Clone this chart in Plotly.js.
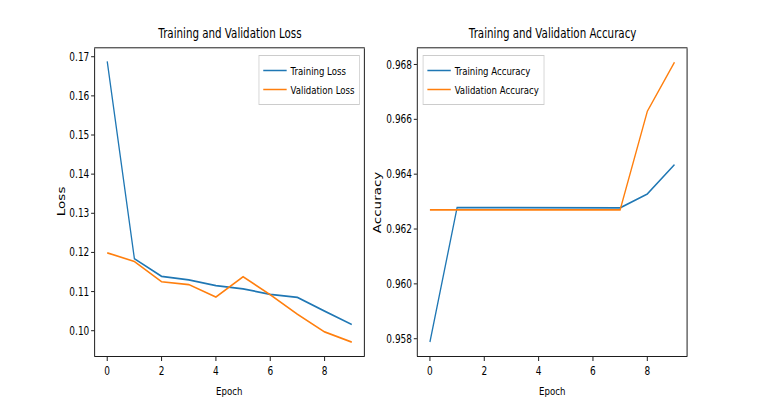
<!DOCTYPE html>
<html>
<head>
<meta charset="utf-8">
<script src="https://cdn.plot.ly/plotly-3.0.1.min.js"></script>
<style>
html,body{margin:0;padding:0;background:#fff;overflow:hidden;width:763px;height:400px;}
#wrap{width:763px;height:400px;overflow:hidden;position:relative;}
#chart{width:978px;height:400px;transform:scaleX(0.78016);transform-origin:0 0;position:absolute;left:0;top:0;}
</style>
</head>
<body>
<div id="wrap"><div id="chart"></div></div>
<script>
const epochs = [0, 1, 2, 3, 4, 5, 6, 7, 8, 9];
const trainLoss = [0.1688, 0.1184, 0.1139, 0.1130, 0.1115, 0.1107, 0.1093, 0.1085, 0.1050, 0.1016];
const valLoss = [0.1199, 0.1177, 0.1125, 0.1118, 0.1086, 0.1138, 0.1092, 0.1042, 0.0997, 0.0971];
const trainAcc = [0.95788, 0.96278, 0.96278, 0.96278, 0.96278, 0.96278, 0.96278, 0.96277, 0.96328, 0.96435];
const valAcc = [0.96270, 0.96270, 0.96270, 0.96270, 0.96270, 0.96270, 0.96270, 0.96270, 0.96629, 0.96808];
const lossTicks = [0.10, 0.11, 0.12, 0.13, 0.14, 0.15, 0.16, 0.17];
const accTicks = [0.958, 0.960, 0.962, 0.964, 0.966, 0.968];
const epochTicks = [0, 2, 4, 6, 8];

const FONT = '"DejaVu Sans", "Liberation Sans", sans-serif';
const BLUE = '#1f77b4', ORANGE = '#ff7f0e';

const traces = [
  {x: epochs, y: trainLoss, name: 'Training Loss', type: 'scatter', mode: 'lines', line: {color: BLUE, width: 1.7}, xaxis: 'x', yaxis: 'y', legend: 'legend'},
  {x: epochs, y: valLoss, name: 'Validation Loss', type: 'scatter', mode: 'lines', line: {color: ORANGE, width: 1.7}, xaxis: 'x', yaxis: 'y', legend: 'legend'},
  {x: epochs, y: trainAcc, name: 'Training Accuracy', type: 'scatter', mode: 'lines', line: {color: BLUE, width: 1.7}, xaxis: 'x2', yaxis: 'y2', legend: 'legend2'},
  {x: epochs, y: valAcc, name: 'Validation Accuracy', type: 'scatter', mode: 'lines', line: {color: ORANGE, width: 1.7}, xaxis: 'x2', yaxis: 'y2', legend: 'legend2'}
];

function axisBase() {
  return {
    showgrid: false, zeroline: false, showline: true, mirror: true,
    linecolor: '#000', linewidth: 1, ticks: 'outside', ticklen: 4, tickwidth: 1, tickcolor: '#000',
    tickfont: {family: FONT, size: 11.5, color: '#000'}, fixedrange: true
  };
}

const yDom = [1 - 356 / 400, 1 - 48.3 / 400];
const legendStyle = {bgcolor: 'rgba(255,255,255,0.8)', bordercolor: '#cccccc', borderwidth: 1, font: {family: FONT, size: 11, color: '#000'}, tracegroupgap: 0};
const layout = {
  width: 978, height: 400,
  margin: {l: 0, r: 0, t: 0, b: 0},
  paper_bgcolor: '#fff', plot_bgcolor: '#fff',
  xaxis: Object.assign(axisBase(), {domain: [95 / 763, 364 / 763], range: [-0.45, 9.45], tickvals: epochTicks, anchor: 'y'}),
  yaxis: Object.assign(axisBase(), {domain: yDom, range: [0.09354, 0.17215], tickvals: lossTicks, ticktext: lossTicks.map(v => v.toFixed(2)), anchor: 'x'}),
  xaxis2: Object.assign(axisBase(), {domain: [417.7 / 763, 686.7 / 763], range: [-0.45, 9.45], tickvals: epochTicks, anchor: 'y2'}),
  yaxis2: Object.assign(axisBase(), {domain: yDom, range: [0.95737, 0.96859], tickvals: accTicks, ticktext: accTicks.map(v => v.toFixed(3)), anchor: 'x2'}),
  legend: Object.assign({x: 360 / 763, y: 1 - 55 / 400, xanchor: 'right', yanchor: 'top'}, legendStyle),
  legend2: Object.assign({x: 422.7 / 763, y: 1 - 55 / 400, xanchor: 'left', yanchor: 'top'}, legendStyle),
  showlegend: true,
  annotations: [
    {text: 'Training and Validation Loss', xref: 'paper', yref: 'paper', x: 229.5 / 763, y: 1 - 34 / 400, xanchor: 'center', yanchor: 'middle', showarrow: false, font: {family: FONT, size: 13.2, color: '#000'}},
    {text: 'Training and Validation Accuracy', xref: 'paper', yref: 'paper', x: 552 / 763, y: 1 - 34 / 400, xanchor: 'center', yanchor: 'middle', showarrow: false, font: {family: FONT, size: 13.2, color: '#000'}},
    {text: 'Epoch', xref: 'paper', yref: 'paper', x: 229.5 / 763, y: 1 - 391 / 400, xanchor: 'center', yanchor: 'middle', showarrow: false, font: {family: FONT, size: 11, color: '#000'}},
    {text: 'Epoch', xref: 'paper', yref: 'paper', x: 552 / 763, y: 1 - 391 / 400, xanchor: 'center', yanchor: 'middle', showarrow: false, font: {family: FONT, size: 11, color: '#000'}},
    {text: 'Loss', xref: 'paper', yref: 'paper', x: 61 / 763, y: 1 - 201 / 400, xanchor: 'center', yanchor: 'middle', textangle: -90, showarrow: false, font: {family: FONT, size: 13.5, color: '#000'}},
    {text: 'Accuracy', xref: 'paper', yref: 'paper', x: 377 / 763, y: 1 - 202 / 400, xanchor: 'center', yanchor: 'middle', textangle: -90, showarrow: false, font: {family: FONT, size: 13.5, color: '#000'}}
  ]
};

Plotly.newPlot('chart', traces, layout, {staticPlot: true, displayModeBar: false});
</script>
</body>
</html>
